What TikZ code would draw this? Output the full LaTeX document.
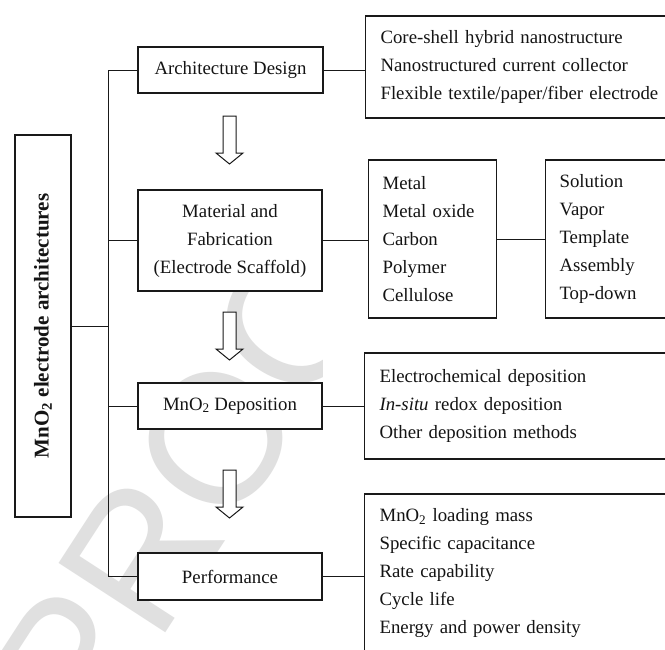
\documentclass[tikz,border=0pt]{standalone}
\usepackage{fontspec}
\setmainfont{Liberation Serif}
\newfontfamily\wmfont{Liberation Sans}
\begin{document}
\begin{tikzpicture}[x=1pt,y=-1pt,
  every node/.style={font=\fontsize{18.8}{28}\selectfont, text=black!92},
  box/.style={draw=black!90, fill=white, line width=1.1pt, inner sep=0pt, align=center},
  list/.style={draw=black!90, fill=white, line width=1.1pt, anchor=west, align=left, inner xsep=15pt, inner ysep=0pt},
  link/.style={draw=black!90, line width=1pt},
  wm/.style={text=black!12, font=\wmfont\fontsize{185}{185}\selectfont, rotate=57, inner sep=0pt},
  downarrow/.pic={\draw[draw=black!90, line width=1pt, fill=white] (-6.5,0) -- (6.5,0) -- (6.5,37) -- (13.5,37) -- (0,48) -- (-13.5,37) -- (-6.5,37) -- cycle;}]
\useasboundingbox (0,0) rectangle (665,649);
\clip (0,0) rectangle (665,649);
\fill[white] (0,0) rectangle (665,649);
% watermark (partly hidden behind the boxes)
\begin{scope}
\clip (0,280) rectangle (322,649);
\node[wm] (wmark) at (216,438) {PROOF};
\end{scope}
% main box
\node[box, rotate=90, minimum width=382, minimum height=56, font=\bfseries\fontsize{21}{25}\selectfont] (main) at (43,326) {MnO\textsubscript{2} electrode architectures};
% middle column
\node[box, minimum width=185, minimum height=46] (arch) at (230.5,70) {Architecture Design};
\node[box, minimum width=184, minimum height=101] (mat) at (230,240.5) {Material and\\Fabrication\\(Electrode Scaffold)};
\node[box, minimum width=184, minimum height=46] (dep) at (230,406) {MnO\textsubscript{2} Deposition};
\node[box, minimum width=184, minimum height=47] (perf) at (230,576.5) {Performance};
% right column
\node[list, text width=300, minimum height=102] (archR) at (365,67) {Core-shell hybrid nanostructure\\Nanostructured current collector\\Flexible textile/paper/fiber electrode};
\node[list, inner xsep=14pt, text width=100, minimum height=158] (metal) at (368,239) {Metal\\Metal oxide\\Carbon\\Polymer\\Cellulose};
\node[list, inner xsep=14pt, text width=200, minimum height=158] (sol) at (545,239) {Solution\\Vapor\\Template\\Assembly\\Top-down};
\node[list, text width=300, minimum height=106] (depR) at (364,406) {Electrochemical deposition\\\textit{In-situ} redox deposition\\Other deposition methods};
\node[list, text width=300, minimum height=158] (perfR) at (364,573) {MnO\textsubscript{2} loading mass\\Specific capacitance\\Rate capability\\Cycle life\\Energy and power density};
% tree
\coordinate (tTop) at (108,70);
\coordinate (tBot) at (108,576.5);
\draw[link] (tTop) -- (tBot);
\draw[link] (main.south) -- (main.south -| tTop);
\draw[link] (arch.west) -- (arch.west -| tTop);
\draw[link] (mat.west) -- (mat.west -| tTop);
\draw[link] (dep.west) -- (dep.west -| tTop);
\draw[link] (perf.west) -- (perf.west -| tTop);
% right links
\draw[link] (arch.east) -- (arch.east -| archR.west);
\draw[link] (mat.east) -- (mat.east -| metal.west);
\draw[link] (metal.east) -- (metal.east -| sol.west);
\draw[link] (dep.east) -- (dep.east -| depR.west);
\draw[link] (perf.east) -- (perf.east -| perfR.west);
% block arrows
\pic at (229.5,116) {downarrow};
\pic at (229.5,312) {downarrow};
\pic at (229.5,470) {downarrow};
\end{tikzpicture}
\end{document}
